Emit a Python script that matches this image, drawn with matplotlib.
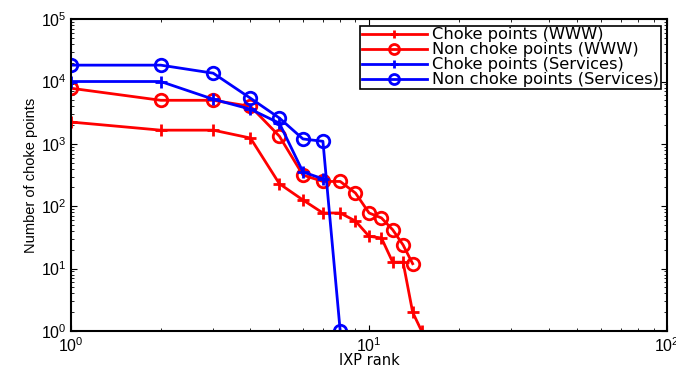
import numpy as np
import matplotlib
matplotlib.use("Agg")
import matplotlib.pyplot as plt

plt.rcParams['font.family'] = ['Liberation Sans', 'DejaVu Sans']

rank = [1, 2, 3, 4, 5, 6, 7, 8, 9, 10, 11, 12, 13, 14, 15]

choke_www = [2240, 1660, 1660, 1240, 230, 126, 78, 78, 58, 33, 31, 12.7, 12.7, 2, 1]
non_choke_www = [7800, 5000, 5000, 4000, 1330, 316, 250, 250, 163, 78, 65, 42, 24, 12]
choke_services = [10000, 10000, 5200, 3600, 2150, 355, 275]
non_choke_services = [18300, 18300, 13600, 5400, 2600, 1200, 1100, 1]

labels = ['Choke points (WWW)', 'Non choke points (WWW)',
          'Choke points (Services)', 'Non choke points (Services)']

fig = plt.figure(figsize=(6.76, 3.68), dpi=100)
ax = fig.add_axes([0.105, 0.1005, 0.882, 0.8475])

ax.plot(rank[:len(choke_www)], choke_www, color='red', lw=2, marker='+',
        ms=8, mew=2, label=labels[0])
ax.plot(rank[:len(non_choke_www)], non_choke_www, color='red', lw=2, marker='o',
        ms=9, mew=2, mfc='none', label=labels[1])
ax.plot(rank[:len(choke_services)], choke_services, color='blue', lw=2, marker='+',
        ms=8, mew=2, label=labels[2])
ax.plot(rank[:len(non_choke_services)], non_choke_services, color='blue', lw=2, marker='o',
        ms=9, mew=2, mfc='none', label=labels[3])

ax.set_xscale('log')
ax.set_yscale('log')
ax.set_xlim(1, 100)
ax.set_ylim(1, 1e5)

ax.tick_params(which='both', direction='in', top=True, right=True, labelsize=11.5)
ax.tick_params(which='major', length=4, pad=3)
ax.tick_params(which='minor', length=2)
ax.tick_params(axis='x', which='major', pad=3.5)
for s in ax.spines.values():
    s.set_linewidth(1.5)

ax.set_xlabel('IXP rank', fontsize=10.5, family=['DejaVu Sans'], labelpad=-1)
ax.set_ylabel('Number of choke points', fontsize=10.5, labelpad=2)

leg = ax.legend(loc='upper right', prop={'family': 'DejaVu Sans', 'size': 11.7},
                fancybox=False, framealpha=1, markerscale=0.8,
                edgecolor='black', borderpad=0.1, labelspacing=0.0,
                handlelength=4.0, handletextpad=0.35, borderaxespad=0.4)
leg.get_frame().set_linewidth(1.2)

fig.savefig('out.png', dpi=100)
